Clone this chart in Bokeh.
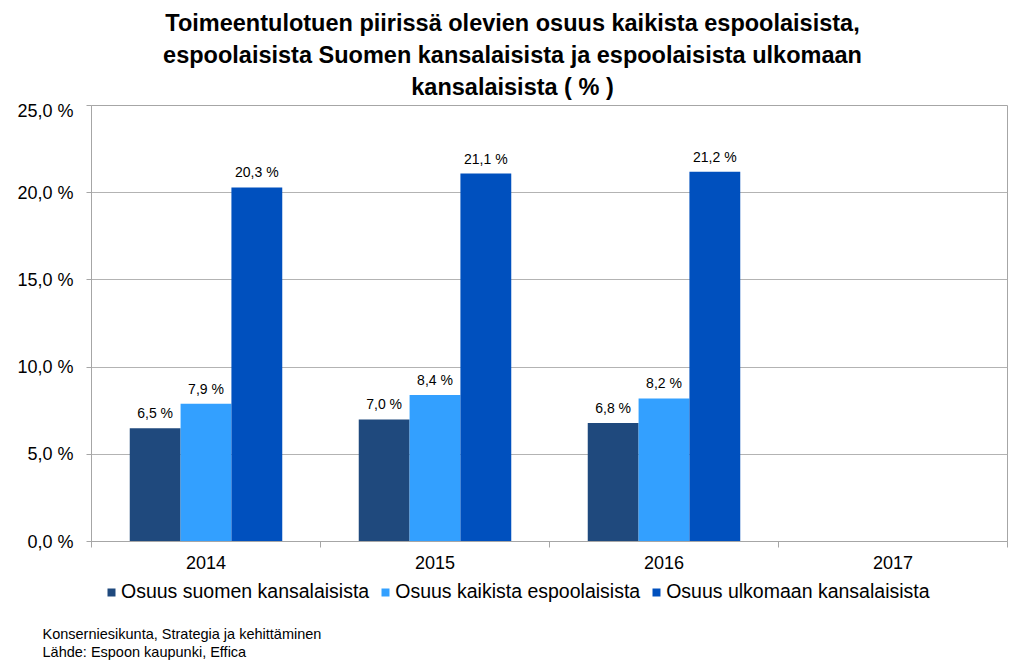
from bokeh.plotting import figure
from bokeh.layouts import column
from bokeh.models import (ColumnDataSource, FixedTicker, LabelSet, Legend, LegendItem, Label, Range1d)
from bokeh.core.properties import value
from bokeh.embed import file_html
from bokeh.resources import INLINE

years = ["2014", "2015", "2016", "2017"]
suomen = [6.5, 7.0, 6.8, None]
kaikista = [7.9, 8.4, 8.2, None]
ulkomaan = [20.3, 21.1, 21.2, None]
series_names = ["Osuus suomen kansalaisista", "Osuus kaikista espoolaisista", "Osuus ulkomaan kansalaisista"]
colors = ["#1F497D", "#33A0FF", "#0050BE"]
y_ticks = [0, 5, 10, 15, 20, 25]
title_lines = ["Toimeentulotuen piirissä olevien osuus kaikista espoolaisista,",
               "espoolaisista Suomen kansalaisista ja espoolaisista ulkomaan",
               "kansalaisista ( % )"]
footer_lines = ["Konserniesikunta, Strategia ja kehittäminen",
                "Lähde: Espoon kaupunki, Effica"]

FONT = "Liberation Sans"
W = 1020
H_TOP, H_MAIN, H_BOT = 100, 476, 84


def blank_fig(h, y_range=None):
    f = figure(width=W, height=h, output_backend="svg", toolbar_location=None,
               x_range=Range1d(0, 1), y_range=y_range or Range1d(0, 1),
               x_axis_type=None, y_axis_type=None, min_border=0, frame_align=False)
    f.outline_line_color = None
    f.background_fill_color = "white"
    f.border_fill_color = "white"
    f.xgrid.visible = False
    f.ygrid.visible = False
    return f


# ---- title ----
top = blank_fig(H_TOP)
for i, t in enumerate(title_lines):
    top.add_layout(Label(x=512, y=H_TOP - 22 - 32 * i, x_units="screen", y_units="screen", text=t,
                         text_align="center", text_baseline="middle", text_font=FONT,
                         text_font_size="23.5px", text_font_style="bold", text_color="black"))

# ---- main chart ----
p = figure(width=W, height=H_MAIN, output_backend="svg", toolbar_location=None,
           x_range=Range1d(0, len(years)), y_range=Range1d(0, 25),
           min_border_left=91, min_border_right=W - 1007, min_border_top=5,
           min_border_bottom=35, frame_align=False)
p.background_fill_color = "white"
p.border_fill_color = "white"
p.outline_line_color = "#A6A6A6"

bar_w = 0.222
offsets = [-bar_w, 0.0, bar_w]
sources = []
for vals, off, col in zip([suomen, kaikista, ulkomaan], offsets, colors):
    xs, ys, labels = [], [], []
    for i, v in enumerate(vals):
        if v is None:
            continue
        xs.append(i + 0.5 + off)
        ys.append(v)
        labels.append(f"{v:.1f} %".replace(".", ","))
    src = ColumnDataSource(dict(x=xs, top=ys, label=labels))
    sources.append(src)
    p.vbar(x="x", top="top", width=bar_w, bottom=0, source=src,
           fill_color=col, line_color=None)
    p.add_layout(LabelSet(x="x", y="top", text="label", source=src, y_offset=7,
                          text_align="center", text_baseline="bottom",
                          text_font=value(FONT), text_font_size="14px", text_color="black"))

p.yaxis.ticker = FixedTicker(ticks=y_ticks)
p.yaxis.major_label_overrides = {t: f"{t:.1f} %".replace(".", ",") for t in y_ticks}
p.yaxis.major_label_text_font = FONT
p.yaxis.major_label_text_font_size = "18px"
p.yaxis.major_label_text_color = "black"
p.yaxis.axis_line_color = "#A6A6A6"
p.yaxis.major_tick_line_color = "#A6A6A6"
p.yaxis.major_tick_in = 0
p.yaxis.major_tick_out = 5
p.yaxis.minor_tick_line_color = None
p.yaxis.major_label_standoff = 13

centers = [i + 0.5 for i in range(len(years))]
bounds = [float(i) for i in range(len(years) + 1)]
p.xaxis.ticker = FixedTicker(ticks=centers, minor_ticks=bounds)
p.xaxis.major_label_overrides = {c: y for c, y in zip(centers, years)}
p.xaxis.major_label_text_font = FONT
p.xaxis.major_label_text_font_size = "18px"
p.xaxis.major_label_text_color = "black"
p.xaxis.axis_line_color = "#A6A6A6"
p.xaxis.major_tick_line_color = None
p.xaxis.minor_tick_line_color = "#A6A6A6"
p.xaxis.minor_tick_in = 0
p.xaxis.minor_tick_out = 6
p.xaxis.major_label_standoff = 8

p.xgrid.grid_line_color = None
p.ygrid.ticker = FixedTicker(ticks=y_ticks)
p.ygrid.grid_line_color = "#B3B3B3"

# ---- legend + footer ----
# legend swatches come from the same series sources (bars fall outside this panel's range)
bot = blank_fig(H_BOT, y_range=Range1d(1000, 1001))
items = []
for n, col, src in zip(series_names, colors, sources):
    r = bot.vbar(x="x", top="top", width=bar_w, bottom=0, source=src,
                 fill_color=col, line_color=None)
    items.append(LegendItem(label=n, renderers=[r]))
legend = Legend(items=items, orientation="horizontal", location=(106, 57),
                label_text_font=FONT, label_text_font_size="19.5px", label_text_color="black",
                glyph_width=10, glyph_height=10, spacing=11, label_standoff=5,
                border_line_color=None, background_fill_alpha=0, padding=2, margin=0)
bot.add_layout(legend, "center")
for i, t in enumerate(footer_lines):
    bot.add_layout(Label(x=42, y=27 - 18 * i, x_units="screen", y_units="screen", text=t,
                         text_align="left", text_baseline="middle", text_font=FONT,
                         text_font_size="14.5px", text_color="black"))

layout = column(top, p, bot, spacing=0)
open("out.html", "w").write(file_html(layout, INLINE))
